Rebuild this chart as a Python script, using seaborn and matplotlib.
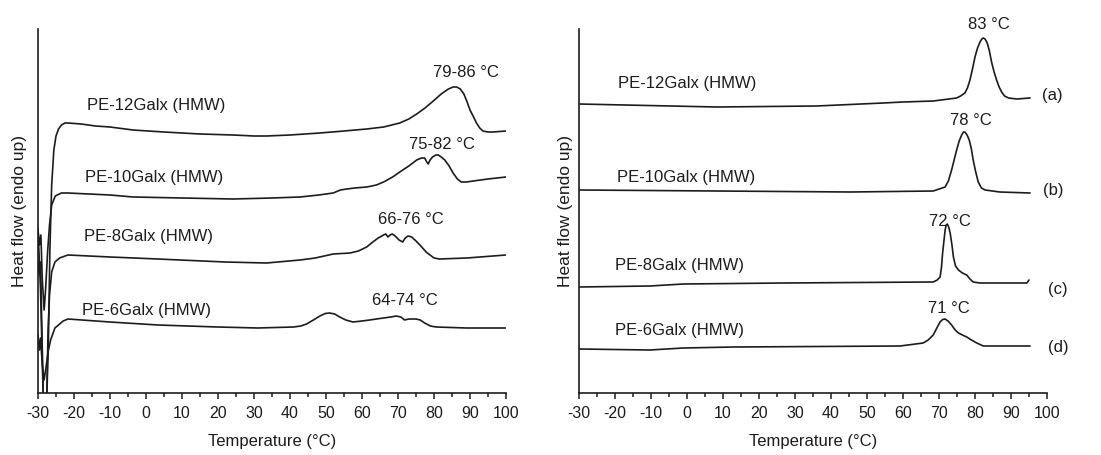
import matplotlib
matplotlib.use("Agg")
import matplotlib.pyplot as plt
from matplotlib.ticker import MultipleLocator
import seaborn as sns

# ---- left panel: DSC curves (heat flow, arbitrary units, curves stacked)
t_12L = [-30, -29.3, -28.6, -27.9, -27.1, -26.7, -26.2, -25.6, -25, -24.3, -23.5, -22.5, -21.7, -18, -14,
         -10, -3.6, 5, 15, 24.2, 30, 33.5, 40, 48.3, 55, 61.3, 66, 70.5, 73, 75.2, 77.5, 79.8, 82, 84,
         85.3, 86.3, 87.3, 88.3, 89.2, 90, 91, 91.8, 92.7, 93.6, 95, 96.4, 100]
h_12L = [165, 103, 3, -47, 53, 143, 208, 243, 257, 264, 268, 270, 270, 269, 267,
         266, 263, 261, 259, 258, 257, 257, 258, 260, 262, 264, 266, 270, 274, 279, 285, 292, 299, 304,
         306, 306, 304, 299, 291, 283, 276, 270, 265, 262, 261, 261, 262]

t_10L = [-30, -29.6, -29.2, -28.8, -28.3, -27.9, -27.3, -26.8, -26.2, -25.2, -23.5, -21.7, -10, -3.6,
         10, 24.2, 35, 42.8, 48, 52, 54, 55.8, 58, 61.3, 64, 66, 68.5, 70.5, 73, 75.2, 76.5, 77.4, 78,
         78.4, 78.9, 79.6, 80.5, 81.2, 82, 83, 84.2, 85.3, 86.5, 87.6, 89, 90.9, 95, 100]
h_10L = [163, 148, 158, 113, 83, 103, 143, 168, 188, 197, 200, 200, 198, 196,
         195, 194, 195, 196, 198, 200, 203, 204, 205, 206, 208, 211, 216, 221, 227, 233, 235, 235, 231,
         229, 233, 236, 238, 238, 236, 233, 227, 220, 214, 211, 211, 212, 214, 216]

t_8L = [-30, -29.6, -29.3, -28.8, -28.3, -27.7, -27.2, -26.8, -26.2, -25.3, -24, -21.7, -10, 3.3, 21.9,
        33.5, 42.8, 47, 52, 56.7, 59, 61.3, 63, 64.5, 66, 66.6, 67.2, 67.8, 68.4, 69.2, 70.3, 71.3, 72,
        72.8, 73.8, 75, 76.6, 77.8, 78.9, 80, 81.5, 89.1, 100]
h_8L = [131, 118, 131, 43, -47, -27, 63, 98, 121, 131, 135, 138, 136, 134, 131,
        130, 133, 135, 139, 140, 142, 146, 151, 155, 158, 159, 156, 158, 159, 157, 153, 151, 155,
        157, 156, 152, 146, 141, 138, 135, 134, 135, 138]

t_6L = [-30, -29.6, -29.3, -28.8, -28.3, -27.8, -27.2, -26.5, -25.3, -23, -21.7, -10, 3.3, 20, 31, 41,
        43, 44.6, 46.5, 48.3, 49.8, 51, 52.4, 53.8, 55.5, 57.5, 60, 62.1, 64, 66, 68, 69.5, 70.8, 71.8,
        73, 75, 76.2, 77.4, 79, 80.6, 89, 100]
h_6L = [58, 43, 55, 28, 13, 25, 41, 53, 65, 72, 74, 71, 68, 66, 65, 66,
        67, 69, 73, 77, 79.5, 80, 79, 76, 73, 71, 72, 73, 74, 75, 76, 77, 76, 73,
        74, 74, 73, 70, 67, 66, 65, 65]

# ---- right panel
t_a = [-30, 8.2, 36, 54.5, 60, 68.4, 74.9, 76, 77.2, 77.9, 78.6, 79.3, 80, 80.7, 81.4, 81.9, 82.3,
       82.8, 83.4, 84, 84.6, 85.3, 86, 86.7, 87.4, 88.2, 89.3, 91.6, 95.3]
h_a = [289, 286, 287, 290, 291, 292, 295, 297, 300, 305, 313, 324, 336, 345, 351, 354, 355,
       354, 350, 342, 331, 321, 313, 306, 301, 297, 295, 294, 295]

t_b = [-30, 8.2, 45.3, 68.4, 71.7, 72.6, 73.5, 74.2, 74.9, 75.6, 76.3, 76.8, 77.2, 77.8, 78.4, 79,
       79.5, 80.2, 80.9, 81.8, 82.8, 86.9, 95.3]
h_b = [203, 202, 201, 202, 206, 212, 223, 233, 243, 252, 258, 261, 261, 258, 253, 244,
       233, 221, 211, 205, 203, 201, 200]

t_c = [-30, -10.3, -1, 26.8, 68.4, 69.5, 70.3, 70.7, 71, 71.4, 71.7, 72, 72.3, 72.7, 73.1, 73.6, 74,
       74.6, 75.4, 76.5, 77.7, 78.6, 79.5, 81.4, 94.4, 95]
h_c = [106, 107, 109, 110, 111, 113, 116, 126, 140, 153, 163, 168, 169, 166, 160, 148, 136,
       127, 123, 120, 118, 114, 111, 110, 110, 113]

t_d = [-30, -10.3, -1, 12.9, 59.2, 65.6, 67, 68.4, 69.4, 70.3, 71, 71.7, 72.5, 73.5, 74.5, 75.4,
       76.5, 77.7, 79, 80.5, 82.3, 95.3]
h_d = [44, 43, 45, 46, 47, 50, 53, 58, 65, 71, 73.5, 74, 72, 68, 63, 60,
       58, 56, 53, 50, 47, 47]

sample_names = ["PE-12Galx (HMW)", "PE-10Galx (HMW)", "PE-8Galx (HMW)", "PE-6Galx (HMW)"]
left_ranges = ["79-86", "75-82", "66-76", "64-74"]
right_peaks = ["83", "78", "72", "71"]
curve_tags = ["(a)", "(b)", "(c)", "(d)"]

sns.set_style("ticks")
plt.rcParams["font.family"] = ["Liberation Sans", "DejaVu Sans"]
plt.rcParams["axes.unicode_minus"] = False

ink = "#1c1c1c"

fig = plt.figure(figsize=(11.01, 4.55), dpi=100)
axL = fig.add_axes([38 / 1101, 62 / 455, 468 / 1101, 364 / 455])
axR = fig.add_axes([579 / 1101, 62 / 455, 468 / 1101, 364 / 455])

for t, h in [(t_12L, h_12L), (t_10L, h_10L), (t_8L, h_8L), (t_6L, h_6L)]:
    sns.lineplot(x=t, y=h, ax=axL, color=ink, lw=1.2, estimator=None, sort=False)
for t, h in [(t_a, h_a), (t_b, h_b), (t_c, h_c), (t_d, h_d)]:
    sns.lineplot(x=t, y=h, ax=axR, color=ink, lw=1.2, estimator=None, sort=False)

for ax in (axL, axR):
    ax.set_xlim(-30, 100)
    ax.set_ylim(0, 364)
    ax.set_yticks([])
    ax.xaxis.set_major_locator(MultipleLocator(10))
    ax.xaxis.set_minor_locator(MultipleLocator(5))
    ax.tick_params(axis="x", which="major", direction="out", length=4.5, width=1.1,
                   labelsize=11.5, colors=ink, pad=5)
    ax.tick_params(axis="x", which="minor", direction="out", length=3, width=1.1, colors=ink)
    for side in ("left", "bottom"):
        ax.spines[side].set_linewidth(1.2)
        ax.spines[side].set_color(ink)
    ax.set_xlabel("Temperature (°C)", fontsize=12, color=ink, labelpad=9)
sns.despine(fig=fig)
axL.set_ylabel("Heat flow (endo up)", fontsize=12.5, color=ink, labelpad=8)
axR.set_ylabel("Heat flow (endo up)", fontsize=12.5, color=ink, labelpad=4)

fs = 12
name_pos_L = [(-16.4, 283), (-16.9, 211), (-17.2, 152), (-17.8, 78)]
range_pos_L = [(88.9, 316), (82.2, 244), (73.6, 169), (72.0, 88)]
for name, (x, y) in zip(sample_names, name_pos_L):
    axL.text(x, y, name, fontsize=fs, color=ink, ha="left", va="baseline")
for rng, (x, y) in zip(left_ranges, range_pos_L):
    axL.text(x, y, rng + " °C", fontsize=fs, color=ink, ha="center", va="baseline")

name_pos_R = [(-19.2, 305), (-19.4, 211), (-20.0, 123), (-20.0, 58)]
peak_pos_R = [(83.9, 364), (78.9, 268), (73.0, 167), (72.7, 80)]
tag_pos_R = [(98.6, 293), (99.0, 198), (100.4, 99), (100.4, 41)]
for name, (x, y) in zip(sample_names, name_pos_R):
    axR.text(x, y, name, fontsize=fs, color=ink, ha="left", va="baseline")
for pk, (x, y) in zip(right_peaks, peak_pos_R):
    axR.text(x, y, pk + " °C", fontsize=fs, color=ink, ha="center", va="baseline", clip_on=False)
for tag, (x, y) in zip(curve_tags, tag_pos_R):
    axR.text(x, y, tag, fontsize=fs, color=ink, ha="left", va="baseline", clip_on=False)

fig.savefig("out.png", dpi=100)
